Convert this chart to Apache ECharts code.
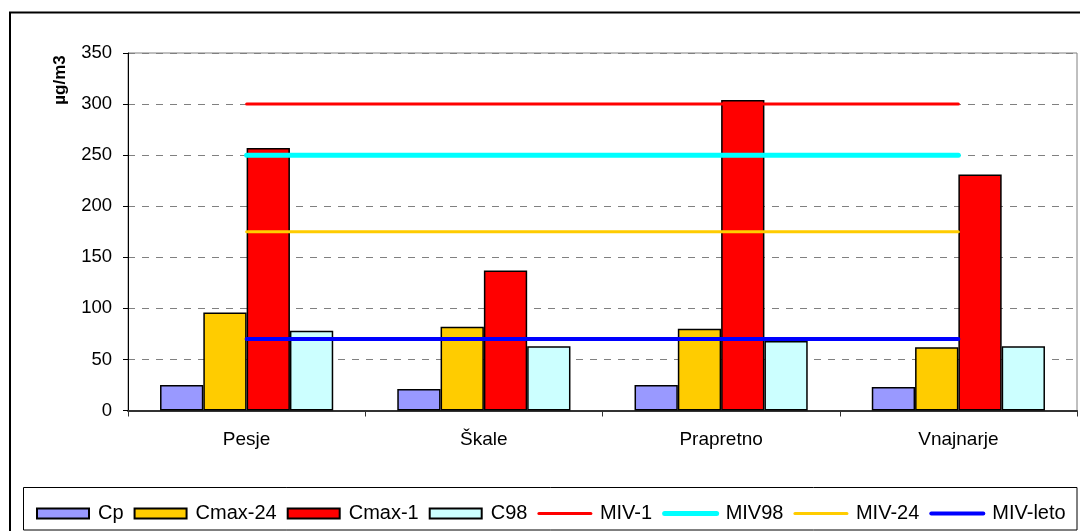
<!DOCTYPE html>
<html>
<head>
<meta charset="utf-8">
<script src="https://cdn.jsdelivr.net/npm/echarts@6/dist/echarts.min.js"></script>
<style>html,body{margin:0;padding:0;background:#fff;}#c{width:1080px;height:531px;}</style>
</head>
<body>
<div id="c"></div>
<script>
const categories = ['Pesje', 'Škale', 'Prapretno', 'Vnajnarje'];
const Cp = [25, 21, 25, 23];
const Cmax24 = [96, 82, 80, 62];
const Cmax1 = [257, 137, 304, 231];
const C98 = [78, 63, 68, 63];
const MIV1 = [300, 300, 300, 300];
const MIV98 = [250, 250, 250, 250];
const MIV24 = [175, 175, 175, 175];
const MIVleto = [70, 70, 70, 70];
const yTicks = [0, 50, 100, 150, 200, 250, 300, 350];

const FONT = 'Liberation Sans, Arial, sans-serif';
const chart = echarts.init(document.getElementById('c'), null, {renderer: 'canvas'});

function bar(name, data, color) {
  return {name, type: 'bar', data, barGap: '0%', barCategoryGap: '27%',
    itemStyle: {color, borderColor: '#000', borderWidth: 1.5}, z: 2};
}
function line(name, data, color, w) {
  return {name, type: 'line', data, symbol: 'none', z: 5,
    lineStyle: {color, width: w, cap: 'round'}, itemStyle: {color}};
}
const legendWidths = {'Cp': 26, 'Cmax-24': 85, 'Cmax-1': 65, 'C98': 44, 'MIV-1': 53, 'MIV98': 62, 'MIV-24': 67, 'MIV-leto': 77};
const barNames = ['Cp', 'Cmax-24', 'Cmax-1', 'C98'];
const lineNames = ['MIV-1', 'MIV98', 'MIV-24', 'MIV-leto'];

chart.setOption({
  animation: false,
  backgroundColor: '#fff',
  textStyle: {fontFamily: FONT},
  grid: {left: 128, right: 3, top: 53, bottom: 120.5, show: true, borderColor: '#808080', borderWidth: 1, backgroundColor: 'transparent'},
  xAxis: {
    type: 'category', data: categories, boundaryGap: true,
    axisLine: {show: true, lineStyle: {color: '#333', width: 2}},
    axisTick: {show: true, length: 6, lineStyle: {color: '#333'}},
    axisLabel: {fontSize: 19, color: '#000', margin: 20, fontFamily: FONT},
    splitLine: {show: false}
  },
  yAxis: {
    type: 'value', min: yTicks[0], max: yTicks[yTicks.length - 1], interval: 50,
    axisLine: {show: true, lineStyle: {color: '#000', width: 1}},
    axisTick: {show: true, length: 5, lineStyle: {color: '#000'}},
    axisLabel: {fontSize: 18.5, color: '#000', margin: 16, fontFamily: FONT},
    splitLine: {show: true, lineStyle: {color: '#808080', width: 1, type: [7, 7]}}
  },
  legend: {
    left: 31, top: 498.5, itemWidth: 52, itemHeight: 10, itemGap: 10,
    textStyle: {fontSize: 20, color: '#000', padding: [0, 0, 0, 4], fontFamily: FONT},
    lineStyle: {width: 'inherit'},
    data: barNames.map(n => ({name: n, icon: 'rect', textStyle: {width: legendWidths[n]}}))
      .concat(lineNames.map(n => ({name: n, itemStyle: {opacity: 0}, textStyle: {width: legendWidths[n]}})))
  },
  graphic: [
    {type: 'rect', shape: {x: 10, y: 12.5, width: 1200, height: 600}, style: {fill: 'none', stroke: '#000', lineWidth: 2}, z: 100, silent: true},
    {type: 'rect', shape: {x: 23.5, y: 487.5, width: 1053.5, height: 42.5}, style: {fill: 'none', stroke: '#000', lineWidth: 1}, z: 100, silent: true},
    {type: 'text', x: 60, y: 80, rotation: Math.PI / 2,
      style: {text: 'µg/m3', font: 'bold 17px ' + FONT, fill: '#000', textAlign: 'center', textVerticalAlign: 'middle'}, z: 100}
  ],
  series: [
    bar('Cp', Cp, '#9999FF'),
    bar('Cmax-24', Cmax24, '#FFCC00'),
    bar('Cmax-1', Cmax1, '#FF0000'),
    bar('C98', C98, '#CCFFFF'),
    line('MIV-1', MIV1, '#FF0000', 3),
    line('MIV98', MIV98, '#00FFFF', 5),
    line('MIV-24', MIV24, '#FFCC00', 3),
    line('MIV-leto', MIVleto, '#0000FF', 4)
  ]
});
</script>
</body>
</html>
